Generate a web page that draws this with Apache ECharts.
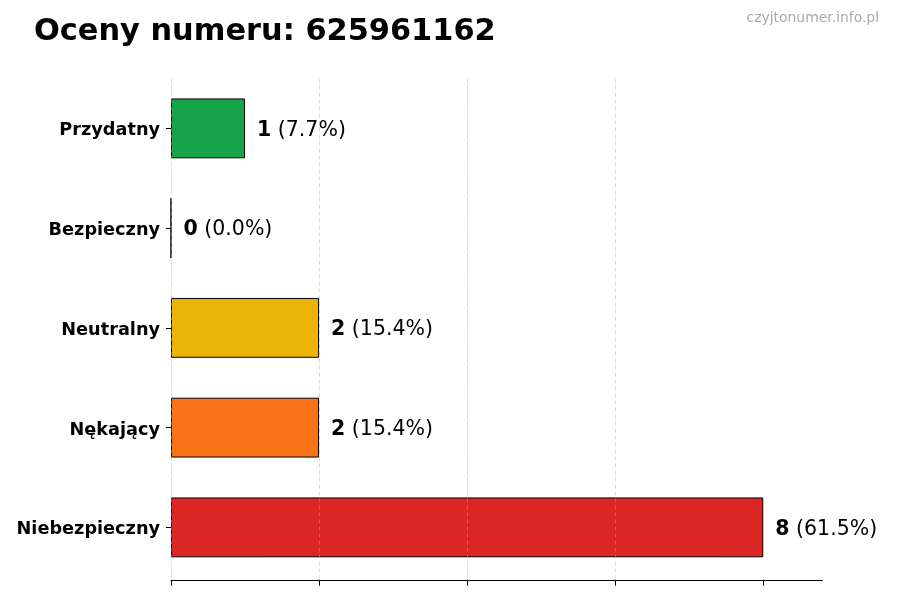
<!DOCTYPE html>
<html>
<head>
<meta charset="utf-8">
<script src="https://cdn.jsdelivr.net/npm/echarts@6/dist/echarts.min.js"></script>
<style>html,body{margin:0;padding:0;background:#fff}#c{width:900px;height:600px}</style>
</head>
<body>
<div id="c"></div>
<script>
const categories = ['Przydatny', 'Bezpieczny', 'Neutralny', 'Nękający', 'Niebezpieczny'];
const values = [1, 0, 2, 2, 8];
const colors = ['#16a34a', '#16a34a', '#eab308', '#f97316', '#dc2626'];
const xTicks = [0, 2, 4, 6, 8];
const titleText = 'Oceny numeru: 625961162';
const watermark = 'czyjtonumer.info.pl';

const total = values.reduce((a, b) => a + b, 0);
const font = 'DejaVu Sans';
const chart = echarts.init(document.getElementById('c'));
chart.setOption({
  animation: false,
  textStyle: { fontFamily: font },
  title: [
    { text: titleText, left: 29, top: 12, textStyle: { fontFamily: font, fontSize: 30.4, fontWeight: 'bold', color: '#000' } },
    { text: watermark, right: 16, top: 6, textStyle: { fontFamily: font, fontSize: 13.9, fontWeight: 'normal', color: '#aaaaaa' } }
  ],
  grid: { left: 171, right: 77.5, top: 78.5, bottom: 22.75, containLabel: false },
  xAxis: {
    type: 'value', min: 0, max: 8.8, interval: 2, z: 3, offset: 2.5,
    axisLine: { show: true, lineStyle: { color: '#000', width: 1 } },
    axisTick: { show: true, length: 6, lineStyle: { color: '#000' }, customValues: xTicks },
    axisLabel: { show: false },
    splitLine: { show: true, showMaxLine: false, lineStyle: { color: 'rgba(170,170,170,0.55)', type: [4, 3], width: 0.8 } }
  },
  yAxis: {
    type: 'category', data: categories, inverse: true,
    axisLine: { show: false },
    axisTick: { show: true, alignWithLabel: true, length: 5, lineStyle: { color: '#000' } },
    axisLabel: {
      margin: 11,
      formatter: v => '{a|' + v + '}',
      rich: { a: { fontFamily: font, fontSize: 17.7, fontWeight: 'bold', color: '#000', padding: [5, 0, 0, 0] } }
    }
  },
  series: [{
    type: 'bar',
    barWidth: '60%',
    data: values.map((v, i) => ({ value: v, itemStyle: { color: colors[i] } })),
    itemStyle: { borderColor: '#000', borderWidth: 1 },
    label: {
      show: true, position: 'right', distance: 12, padding: [4, 0, 0, 0],
      formatter: p => '{b|' + p.value + '}{n| (' + (p.value / total * 100).toFixed(1) + '%)}',
      rich: {
        b: { fontFamily: font, fontSize: 20.5, fontWeight: 'bold', color: '#000' },
        n: { fontFamily: font, fontSize: 20.5, color: '#000' }
      }
    }
  }]
});
</script>
</body>
</html>
